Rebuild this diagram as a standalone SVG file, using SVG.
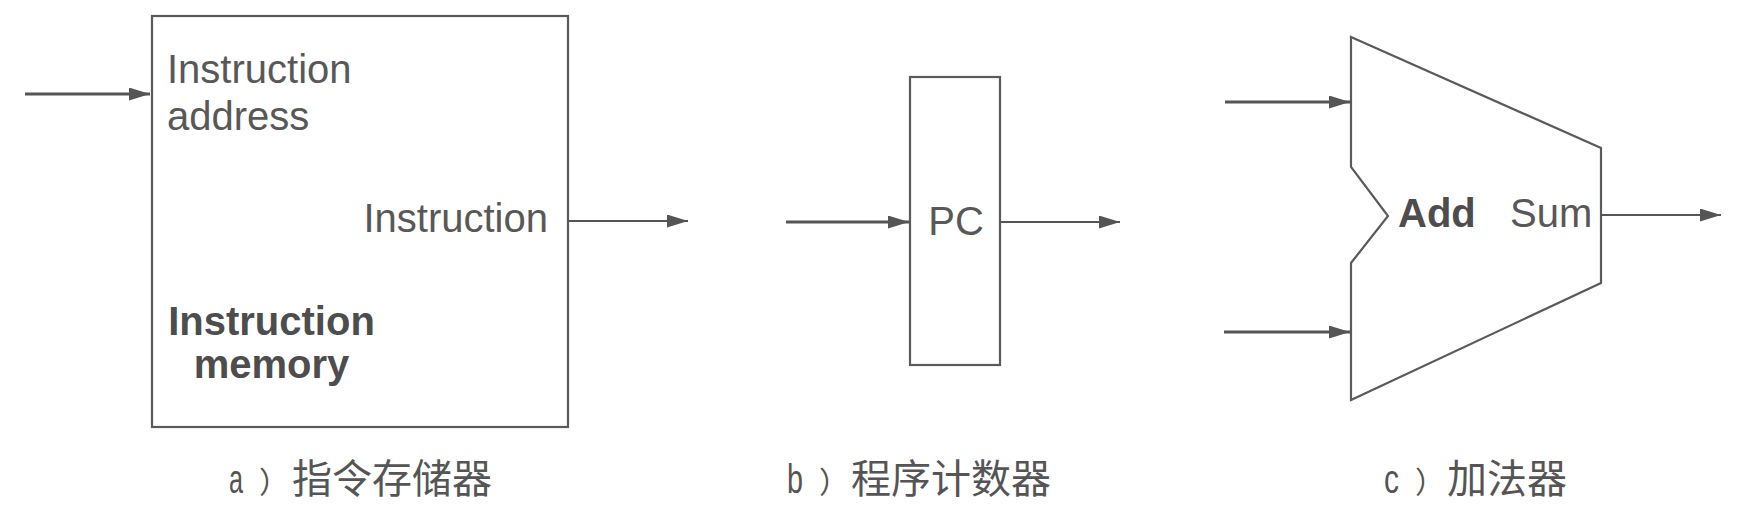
<svg xmlns="http://www.w3.org/2000/svg" width="1760" height="512" viewBox="0 0 1760 512">
  <style>
    .shape { fill: #ffffff; stroke: #5a5a5a; stroke-width: 2.2; }
    .lbl { font-family: "Liberation Sans", Arial, sans-serif; font-size: 40px; fill: #585858; }
    .bold { font-weight: bold; fill: #4d4d4d; }
    .cap { font-family: "Liberation Sans", "Noto Sans CJK SC", sans-serif; font-size: 40px; fill: #555555; }
    .cjk { font-family: "Noto Sans CJK SC", sans-serif; }
    .par { font-family: "Noto Sans CJK SC", sans-serif; font-size: 30px; }
    .in { stroke: #555555; stroke-width: 3.2; fill: none; }
    .out { stroke: #555555; stroke-width: 2; fill: none; }
  </style>
  <defs>
    <marker id="ah" markerWidth="21" markerHeight="13" refX="21" refY="6.5" orient="auto" markerUnits="userSpaceOnUse">
      <path d="M0,0 L21,6.5 L0,13 z" fill="#555555"/>
    </marker>
  </defs>
  <rect width="1760" height="512" fill="#ffffff"/>

  <g id="instruction-memory">
    <rect class="shape" x="152" y="16" width="416" height="411"/>
    <text class="lbl" x="167" y="83">Instruction</text>
    <text class="lbl" x="167" y="130">address</text>
    <text class="lbl" x="548" y="232" text-anchor="end">Instruction</text>
    <text class="lbl bold" x="271.5" y="335" text-anchor="middle">Instruction</text>
    <text class="lbl bold" x="271.5" y="378" text-anchor="middle">memory</text>
  </g>

  <g id="pc">
    <rect class="shape" x="910" y="77" width="90" height="288"/>
    <text class="lbl" x="956" y="235" text-anchor="middle">PC</text>
  </g>

  <g id="adder">
    <polygon class="shape" points="1351,37 1601,148 1601,283 1351,400 1351,263 1388,216 1351,167"/>
    <text class="lbl bold" x="1398" y="227">Add</text>
    <text class="lbl" x="1510" y="227">Sum</text>
  </g>

  <g id="connectors">
    <line class="in" x1="25" y1="94" x2="150" y2="94" marker-end="url(#ah)"/>
    <line class="out" x1="568" y1="221" x2="688" y2="221" marker-end="url(#ah)"/>
    <line class="in" x1="786" y1="222" x2="909" y2="222" marker-end="url(#ah)"/>
    <line class="out" x1="1000" y1="222" x2="1120" y2="222" marker-end="url(#ah)"/>
    <line class="in" x1="1225" y1="102" x2="1350" y2="102" marker-end="url(#ah)"/>
    <line class="in" x1="1224" y1="332" x2="1350" y2="332" marker-end="url(#ah)"/>
    <line class="out" x1="1601" y1="215" x2="1721" y2="215" marker-end="url(#ah)"/>
  </g>

  <g id="captions">
    <text class="cap" y="493"><tspan x="229" textLength="14" lengthAdjust="spacingAndGlyphs">a</tspan><tspan class="par" x="259">）</tspan><tspan class="cjk" x="292">指令存储器</tspan></text>
    <text class="cap" y="493"><tspan x="787" textLength="16" lengthAdjust="spacingAndGlyphs">b</tspan><tspan class="par" x="819">）</tspan><tspan class="cjk" x="851">程序计数器</tspan></text>
    <text class="cap" y="493"><tspan x="1384" textLength="15" lengthAdjust="spacingAndGlyphs">c</tspan><tspan class="par" x="1415">）</tspan><tspan class="cjk" x="1447">加法器</tspan></text>
  </g>
</svg>
